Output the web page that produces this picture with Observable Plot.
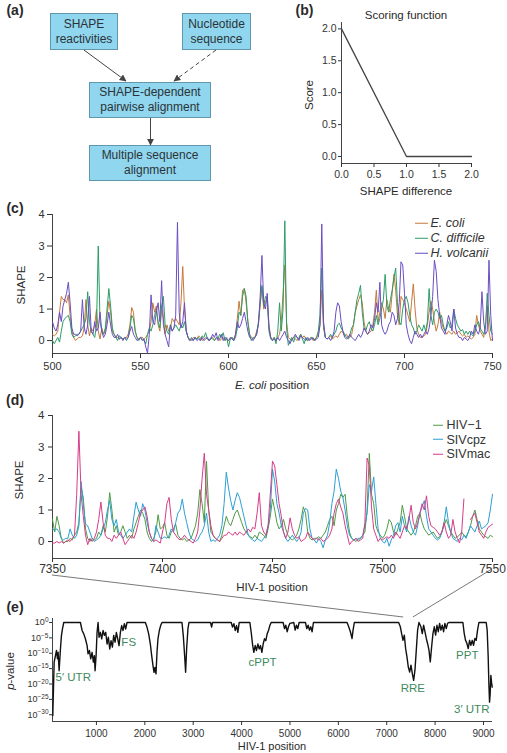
<!DOCTYPE html>
<html>
<head>
<meta charset="utf-8">
<script src="https://cdn.jsdelivr.net/npm/d3@7"></script>
<script src="https://cdn.jsdelivr.net/npm/@observablehq/plot@0.6"></script>
<style>
  html, body { margin: 0; padding: 0; background: #fff; }
  #fig { position: relative; width: 507px; height: 753px; overflow: hidden;
         font-family: "Liberation Sans", Arial, sans-serif; color: #2a2a2a; }
  .box { position: absolute; box-sizing: border-box; background: #8fd6ee; border: 1px solid #6197ad;
         display: flex; align-items: center; justify-content: center; text-align: center;
         font-size: 12px; line-height: 15px; color: #2c3338; }
  .lbl { position: absolute; white-space: nowrap; transform: translate(-50%, -50%); line-height: 1; }
  .row { position: absolute; display: flex; align-items: center; white-space: nowrap; line-height: 1;
         transform: translateY(-50%); font-size: 12.5px; color: #333; }
  .row .sw { display: inline-block; height: 0; border-top: 1.3px solid; }
</style>
</head>
<body>
<div id="fig"></div>
<script>
// ---- (a) pipeline steps ----
const flowSteps = ["SHAPE<br>reactivities", "Nucleotide<br>sequence",
                   "SHAPE-dependent<br>pairwise alignment", "Multiple sequence<br>alignment"];

// ---- (b) scoring function ----
const scoreDiff = [0, 1, 2];
const scoreValue = [2, 0, 0];
const scoreTicks = [0, 0.5, 1, 1.5, 2];

// ---- (c) SHAPE profiles, E. coli numbering 500–750 ----
const ecoliSpecies = ["E. coli", "C. difficile", "H. volcanii"];
const ecoliColors = ["#c7793a", "#2b9d66", "#6a4ec4"];
const ecoliFirst = 500;
const ecoliTicks = [500, 550, 600, 650, 700, 750];
const shapeTicks = [0, 1, 2, 3, 4];
const shapeEcoli = [
  0.2,0.15,0.2,0.3,0.9,1.4,1.3,1.3,1.2,1.45,
  0.8,0.3,0.1,0.0,0.05,0.1,0.1,0.15,0.4,1.3,
  0.5,0.15,0.4,0.3,0.5,1.0,0.3,0.05,0.4,0.2,
  0.3,0.8,1.25,0.9,0.3,0.2,0.1,0.1,0.05,0.1,
  0.05,0.1,0.1,0.2,0.5,1.05,0.9,0.3,0.1,0.05,
  0.1,0.1,0.05,0.1,0.2,0.3,0.6,1.2,0.9,1.1,
  0.5,0.3,1.0,0.7,0.2,0.5,0.3,0.4,0.7,0.6,
  0.7,0.6,0.5,1.2,2.35,1.0,0.3,0.1,0.05,0.0,
  0.1,0.1,0.05,0.15,0.1,0.0,0.05,0.1,0.05,0.0,
  0.05,0.1,0.0,0.05,0.1,0.0,0.05,0.1,0.0,0.05,
  0.0,0.05,0.1,0.05,0.2,0.7,1.25,0.8,1.6,1.65,
  1.2,0.6,0.2,0.1,0.05,0.1,0.3,0.5,1.1,1.7,
  1.0,1.2,1.4,0.5,0.1,0.05,0.1,0.0,0.1,0.2,
  0.6,1.5,2.4,0.6,0.1,0.05,0.0,0.1,0.05,0.0,
  0.1,0.2,0.1,0.15,0.05,0.0,0.05,0.1,0.0,0.05,
  0.1,0.2,0.5,1.6,0.4,0.1,0.05,0.1,0.15,0.05,
  0.1,0.15,0.1,0.2,0.3,0.25,0.15,0.2,0.1,0.1,
  0.2,0.5,0.9,1.1,1.3,1.45,1.2,0.6,0.3,0.2,
  0.25,0.3,0.5,0.9,1.6,0.6,0.9,1.2,1.0,0.7,
  1.3,1.0,0.9,1.5,2.1,1.6,0.8,0.5,1.4,1.3,
  1.2,1.0,0.8,0.6,1.2,1.8,1.0,0.4,0.2,0.1,
  0.1,0.15,0.2,0.5,0.9,1.25,1.0,0.6,0.3,0.5,
  0.9,0.6,0.4,0.3,0.2,0.3,0.25,0.2,0.3,0.2,
  0.25,0.3,0.2,0.15,0.2,0.1,0.15,0.1,0.05,0.1,
  0.2,0.8,0.5,0.3,0.2,0.1,0.5,1.1,0.3,0.0,
  0.05
];
const shapeCdiff = [
  0.0,-0.1,0.0,0.1,-0.05,0.3,0.6,0.7,0.75,0.8,
  0.6,0.2,0.1,0.15,0.2,0.2,0.3,0.4,0.5,0.7,
  1.55,0.6,0.3,0.2,0.1,0.5,3.0,0.6,0.3,0.2,
  0.4,1.0,1.65,1.1,0.4,0.2,0.1,0.0,0.15,0.1,
  0.05,0.1,0.0,0.1,0.4,0.8,0.7,0.3,0.1,0.0,
  0.1,0.05,0.0,-0.1,0.2,0.4,0.3,0.5,0.8,1.0,
  0.6,0.4,1.1,1.4,0.5,0.3,0.2,0.5,0.3,0.4,
  0.5,0.4,0.3,0.5,0.4,0.6,0.3,0.1,0.0,0.1,
  0.0,0.1,0.05,0.1,0.0,0.15,0.1,0.25,0.05,0.0,
  0.1,0.05,0.0,0.1,0.05,0.2,0.1,0.25,0.0,0.1,
  -0.2,0.05,0.1,0.0,0.1,0.4,0.9,0.8,1.4,1.65,
  1.4,0.6,0.2,0.0,0.1,0.1,0.2,0.6,1.2,1.75,
  1.1,1.4,1.3,0.3,0.05,0.0,0.1,-0.1,0.3,1.2,
  0.3,1.0,3.8,0.4,-0.15,0.0,0.1,-0.05,0.15,0.1,
  0.05,0.2,0.05,-0.1,0.1,0.0,0.05,0.1,0.05,0.0,
  0.1,0.3,0.8,2.3,0.5,0.1,0.05,0.1,0.2,0.1,
  0.2,0.3,0.5,0.55,0.4,0.3,0.2,0.1,0.05,0.2,
  0.4,0.5,0.9,1.3,1.5,1.75,0.9,0.4,0.3,0.5,
  0.6,0.4,0.3,0.5,0.8,0.5,0.7,1.0,1.3,2.1,
  1.1,0.9,1.3,1.6,2.0,2.3,1.2,0.6,0.5,1.0,
  1.3,1.4,1.2,0.8,0.5,0.4,0.2,0.3,0.5,0.4,
  0.3,0.5,0.3,0.6,1.65,0.8,0.5,0.9,1.0,0.9,
  0.7,0.8,0.5,0.3,0.4,0.6,0.4,0.5,1.0,0.7,
  0.5,0.4,0.3,0.35,0.2,0.3,0.2,0.3,0.2,0.15,
  0.3,0.5,0.6,0.4,0.3,0.2,0.4,1.5,0.8,0.3,
  0.2
];
const shapeHvol = [
  0.6,0.4,0.3,0.5,0.9,0.6,1.1,1.3,1.5,1.85,
  1.2,0.4,0.2,0.2,0.15,0.2,0.3,1.3,0.4,0.2,
  0.5,1.4,0.3,0.2,0.6,0.3,0.4,0.9,0.3,0.1,
  0.2,0.5,0.9,0.5,0.2,0.1,0.1,0.2,0.05,0.1,
  0.0,0.1,0.05,0.1,0.3,0.45,0.2,0.1,0.0,0.05,
  0.1,0.0,0.05,-0.2,-0.4,0.2,1.45,0.6,0.5,0.9,
  1.2,0.6,1.9,0.5,0.2,0.0,-0.2,0.5,0.3,0.4,
  0.8,3.75,0.9,0.4,0.6,1.2,0.3,0.1,0.0,0.05,
  0.0,0.1,0.0,0.05,0.0,0.1,0.0,0.05,0.1,0.0,
  0.05,0.2,0.1,0.25,0.0,0.05,0.2,0.0,0.1,0.05,
  0.0,0.1,0.05,0.0,0.2,0.6,0.4,0.5,0.7,0.9,
  0.6,0.3,0.1,0.05,0.0,0.1,0.2,0.5,1.4,2.7,
  1.2,1.0,1.5,0.4,0.1,0.0,0.05,0.0,0.1,0.0,
  0.1,0.2,0.3,0.1,0.0,-0.1,0.05,0.1,0.2,0.1,
  0.0,0.15,0.1,0.05,0.0,0.1,0.0,0.05,0.1,0.0,
  0.05,0.1,0.5,3.7,0.6,0.1,0.05,0.1,0.0,0.1,
  0.3,0.9,1.2,1.1,0.6,0.3,0.1,0.05,0.1,0.2,
  0.1,0.05,0.0,0.1,0.2,0.1,0.2,0.4,0.3,0.2,
  0.3,0.5,0.4,0.7,1.2,0.9,1.85,0.5,0.3,0.2,
  0.3,0.5,0.6,0.9,0.8,0.5,0.7,1.2,2.5,2.4,
  1.5,0.5,0.2,0.0,-0.1,0.1,0.3,0.2,0.1,0.2,
  0.1,0.2,0.3,0.2,0.4,0.8,1.4,2.55,2.2,1.3,
  0.8,0.4,0.3,0.2,0.5,0.8,0.6,0.3,1.0,0.4,
  0.2,0.1,0.1,0.0,0.1,0.05,0.0,0.1,0.3,0.2,
  0.5,0.3,0.2,0.4,1.55,0.6,0.2,0.3,2.55,0.8,
  0.0
];

// ---- (d) SHAPE profiles, HIV-1 numbering 7350–7550 ----
const hivStrains = ["HIV\u22121", "SIVcpz", "SIVmac"];
const hivColors = ["#4f9a45", "#2c9fd2", "#d63d88"];
const hivFirst = 7350;
const hivLast = 7550;
const hivTicks = [7350, 7400, 7450, 7500, 7550];
const shapeHiv1 = [
  0.7,0.3,0.8,0.5,0.1,-0.05,0.0,0.0,0.1,0.05,
  0.2,0.3,0.6,1.7,1.4,0.4,0.1,0.0,0.1,0.05,
  0.1,0.3,0.2,0.5,0.3,0.8,1.55,1.0,0.3,0.5,
  0.2,0.3,0.5,0.3,0.1,0.2,0.1,0.4,0.6,0.8,
  1.0,0.9,0.7,0.3,0.1,0.0,0.1,0.3,0.85,0.4,
  0.45,0.6,0.2,0.1,0.3,0.4,0.55,0.2,0.1,0.05,
  0.1,0.0,0.05,0.1,0.3,0.5,0.9,1.65,1.2,0.6,
  2.55,1.0,0.3,0.2,0.1,0.05,0.0,0.2,0.5,0.8,
  0.6,0.5,0.7,0.9,1.0,0.8,0.6,0.4,0.3,0.2,
  0.15,0.1,0.2,0.1,0.3,0.25,0.2,0.1,0.4,0.8,
  1.35,1.0,0.6,0.4,0.5,0.7,0.4,0.2,0.1,0.05,
  0.1,0.2,0.4,0.7,1.1,0.9,0.3,0.1,0.05,0.1,
  0.1,0.15,0.1,0.2,0.3,0.5,0.7,0.8,0.5,1.0,
  1.2,1.5,1.4,1.5,0.8,0.3,0.1,0.05,0.0,0.1,
  0.1,0.2,0.3,1.0,2.8,1.5,1.2,0.5,0.3,0.2,
  0.1,0.2,0.4,0.7,0.6,0.3,0.2,0.4,0.6,1.15,
  0.8,0.4,0.3,0.2,0.3,0.5,0.8,0.9,0.6,0.4,
  0.3,0.2,0.25,0.3,0.2,0.1,0.15,0.3,0.5,0.7,
  0.5,0.3,0.2,0.1,0.15,0.2,0.3,0.2,0.15,0.3,
  0.5,0.8,1.0,0.7,0.4,0.3,0.2,0.15,0.1,0.2,
  0.15
];
const shapeSivcpz = [
  0.4,0.35,0.4,0.3,0.1,0.05,0.1,0.1,0.4,0.2,
  0.1,0.2,0.5,1.9,1.2,0.55,0.5,0.3,0.1,0.0,
  0.05,0.1,0.2,0.4,0.6,1.0,1.3,0.7,0.5,0.7,
  0.3,0.2,0.1,0.2,0.3,0.4,0.3,0.8,1.25,1.0,
  0.8,1.2,1.0,0.6,0.3,0.1,0.0,0.5,0.3,0.1,
  0.1,0.15,0.1,0.2,0.4,0.3,0.6,0.9,1.0,1.35,
  0.9,0.6,0.3,0.1,0.05,0.0,0.05,0.2,0.3,0.5,
  0.9,0.3,0.0,0.05,0.0,0.1,0.2,0.5,1.2,2.2,
  1.7,1.3,1.0,1.3,1.55,1.4,1.1,0.8,0.5,0.2,
  0.1,0.05,0.0,0.1,0.05,0.0,0.1,0.2,0.5,1.0,
  2.3,1.9,1.2,0.9,0.5,0.3,0.1,0.0,0.1,0.2,
  0.1,0.0,0.1,0.3,0.9,1.05,1.0,0.4,0.1,0.05,
  -0.05,0.1,0.0,-0.2,0.05,0.2,0.6,1.2,1.6,2.3,
  2.0,1.6,1.4,1.0,0.5,0.2,0.1,0.05,0.1,0.05,
  0.1,0.2,0.5,0.9,1.8,1.6,2.05,1.2,0.4,0.1,
  0.0,-0.05,0.1,-0.15,0.05,0.2,0.5,0.6,0.3,0.8,
  0.5,0.3,0.8,0.5,0.3,0.2,0.5,0.9,1.1,1.3,
  0.8,0.4,0.3,0.2,0.1,0.05,0.1,0.3,0.6,1.1,
  0.6,0.3,0.1,0.05,0.0,0.1,0.05,0.2,0.1,0.3,
  0.5,0.4,0.3,0.5,0.65,0.4,0.45,0.5,0.6,1.0,
  1.5
];
const shapeSivmac = [
  -0.05,-0.05,0.0,-0.05,0.0,-0.05,0.0,0.05,0.0,0.1,
  0.2,1.5,3.5,1.5,0.8,0.2,-0.1,0.1,0.0,0.1,
  0.3,0.7,1.25,0.6,0.2,0.1,0.1,0.0,0.2,0.1,
  0.2,0.3,0.1,-0.1,0.0,0.1,0.2,0.1,0.3,0.6,
  0.9,1.0,1.1,0.8,0.3,0.1,0.0,0.05,0.0,-0.05,
  0.3,0.6,1.2,1.4,0.7,0.3,0.2,0.1,0.05,0.1,
  0.2,0.1,0.05,0.0,-0.05,0.1,0.3,1.0,2.0,2.8,
  1.5,1.0,0.5,0.2,0.1,0.05,0.0,0.1,0.2,0.2,
  0.3,0.25,0.2,0.3,0.2,0.3,0.25,0.2,0.3,0.4,
  0.3,0.45,0.4,0.9,1.55,0.5,0.3,0.2,0.5,1.5,
  2.55,2.4,1.8,1.2,0.8,0.3,0.1,0.3,0.75,0.4,
  0.2,0.1,0.15,0.0,0.05,0.1,0.3,0.2,0.1,0.05,
  0.1,0.05,0.1,0.0,0.05,0.1,0.2,0.4,0.9,1.2,
  1.35,1.1,0.9,0.5,0.2,-0.1,0.0,0.05,0.1,0.0,
  0.05,0.1,0.6,2.65,2.4,1.1,0.4,0.2,0.0,0.1,
  0.05,0.1,0.15,0.1,0.2,0.1,0.3,0.2,0.1,0.3,
  0.5,0.4,0.7,1.15,0.6,0.4,0.6,0.9,1.2,1.0,
  1.45,0.8,0.5,0.45,0.4,0.3,0.2,0.3,0.6,0.3,
  0.1,0.2,0.7,0.3,0.1,-0.05,0.3,1.35,null,null,
  0.7,0.8,0.9,0.6,0.3,0.2,0.1,0.3,0.45,0.5,
  0.55
];

// ---- (e) genome-wide p-values (log10) along HIV-1 ----
const genomePos = [
  98,112,126,153,174,194,208,229,256,277,298,325,669,704,738,772,807,827,855,882,
  910,937,958,972,993,1013,1034,1054,1082,1109,1137,1164,1192,1220,1247,1275,1302,1330,1357,1385,
  1412,1440,1467,1495,1522,1550,1577,1605,1632,2011,2045,2080,2114,2142,2169,2190,2210,2231,2252,2272,
  2300,2327,2355,2768,2795,2823,2843,2864,2891,2912,3359,3380,3400,3786,3813,3841,3868,3896,3923,3951,
  4171,4199,4226,4253,4281,4308,4336,4364,4391,4419,4446,4474,4501,4529,4556,4584,4611,4859,4887,4914,
  4942,4969,4997,5079,5107,5134,5162,5189,5320,5348,5375,5403,5430,5458,5485,6180,6214,6249,6283,6304,
  6331,7246,7281,7308,7336,7363,7391,7418,7446,7474,7501,7529,7556,7583,7611,7638,7666,7707,7735,7762,
  7790,7818,7845,7873,7900,7928,7955,7983,8010,8038,8065,8093,8120,8148,8175,8202,8230,8258,8285,8574,
  8602,8629,8657,8684,8712,8739,8767,8794,8822,8849,8877,8905,9056,9076,9097,9111,9125,9138,9152,9166,
  9180
];
const genomeLogP = [
  -30.3,-21.6,-12.9,-10.8,-9.1,-11.8,-9.7,-15.7,-8.6,-4.2,-2.1,0,0,-2.6,-3.7,-5.3,-7.5,-10.2,-9.1,-11.8,
  -9.7,-12.9,-10.8,-15.7,-10.8,-3.2,0,-4.8,-3.2,-5.3,-2.6,-4.2,-3.2,-7.0,-4.8,-8.6,-5.9,-8.0,-4.2,-6.4,
  -3.2,-5.3,-7.5,-3.2,-1.0,-2.6,-0.4,-2.1,0,0,-1.5,-3.7,-7.0,-10.8,-14.0,-16.2,-14.6,-16.7,-9.7,-5.3,
  -2.6,-1.0,0,0,-4.2,-10.8,-16.2,-8.6,-2.1,0,0,-1.5,0,0,-1.5,-0.4,-2.6,-1.0,-3.2,0,
  0,-3.2,-7.0,-9.7,-7.5,-9.1,-7.0,-8.6,-7.5,-9.7,-7.0,-5.3,-5.9,-3.7,-2.6,-1.0,0,0,-2.0,-0.9,
  -3.0,-1.4,-0.3,0,-2.5,-0.9,-2.0,0,0,-2.0,-0.9,-2.5,-1.4,-3.0,0,0,-1.4,-3.0,-5.2,-2.5,
  0,0,-1.4,-3.6,-5.8,-4.1,-8.5,-11.2,-14.5,-16.1,-13.9,-16.6,-18.8,-15.6,-9.0,-2.5,0,-1.4,-3.6,-0.9,
  -3.0,-5.2,-6.9,-9.0,-12.8,-7.9,-3.6,-1.4,-4.1,-0.9,-3.0,-0.3,-2.5,-0.9,-3.0,-0.3,-2.0,-0.3,0,0,
  -3.6,-5.8,-6.8,-8.5,-5.8,-7.4,-5.8,-7.4,-5.2,-5.8,-2.5,0,0,-2.5,-11.2,-19.9,-25.9,-23.2,-17.2,-19.4,
  -21.0
];
const genomeTicks = [1000, 2000, 3000, 4000, 5000, 6000, 7000, 8000, 9000];
const pTicks = [0, -5, -10, -15, -20, -25, -30];
const regionNames = ["5\u2032 UTR", "FS", "cPPT", "RRE", "PPT", "3\u2032 UTR"];
const regionPos = [521, 1667, 4433, 7539, 8664, 8757];
const regionLogP = [-17.8, -6.4, -12.9, -21.4, -10.7, -28.3];

// ------------------------------------------------------------------
const fig = document.getElementById("fig");
const FONT = '"Liberation Sans", Arial, sans-serif';
const AXIS = "#444";
const baseStyle = {fontFamily: FONT, fontSize: "11px", color: "#333", background: "transparent", overflow: "visible"};

function put(el, left, top) {
  el.style.position = "absolute";
  el.style.left = left + "px";
  el.style.top = top + "px";
  fig.appendChild(el);
  return el;
}
function label(html, cx, cy, {size = 11.5, rotate = false, bold = false, color = null} = {}) {
  const d = document.createElement("div");
  d.className = "lbl";
  d.innerHTML = html;
  d.style.left = cx + "px";
  d.style.top = cy + "px";
  d.style.fontSize = size + "px";
  if (rotate) d.style.transform = "translate(-50%, -50%) rotate(-90deg)";
  if (bold) d.style.fontWeight = "bold";
  if (color) d.style.color = color;
  fig.appendChild(d);
}
function legend(names, colors, left, top, step, swatch, gap, italic) {
  names.forEach((name, k) => {
    const row = document.createElement("div");
    row.className = "row";
    row.style.left = left + "px";
    row.style.top = (top + k * step) + "px";
    const sw = document.createElement("span");
    sw.className = "sw";
    sw.style.width = swatch + "px";
    sw.style.marginRight = gap + "px";
    sw.style.borderColor = colors[k];
    const t = document.createElement("span");
    t.textContent = name;
    if (italic) t.style.fontStyle = "italic";
    row.append(sw, t);
    fig.appendChild(row);
  });
}

// ---- (a) flowchart boxes ----
const boxFrames = [[50, 13, 68, 37], [182, 13, 69, 37], [89, 82, 122, 36], [89, 145, 122, 36]];
flowSteps.forEach((html, i) => {
  const b = document.createElement("div");
  b.className = "box";
  b.innerHTML = html;
  const [l, t, w, h] = boxFrames[i];
  b.style.width = w + "px";
  b.style.height = h + "px";
  put(b, l, t);
});

// ---- (b) scoring function ----
const scoreRows = scoreDiff.map((d, i) => ({diff: d, score: scoreValue[i]}));
const plotB = Plot.plot({
  width: 247, height: 200, marginLeft: 81, marginRight: 36, marginTop: 22, marginBottom: 37,
  style: baseStyle,
  x: {domain: [0, 2], label: null},
  y: {domain: [-0.11, 2.1], label: null},
  marks: [
    Plot.ruleX([0], {stroke: AXIS}),
    Plot.ruleY([-0.11], {stroke: AXIS}),
    Plot.axisX({ticks: scoreTicks, tickFormat: d3.format(".1f"), tickSize: 4, tickPadding: 3, fontSize: 10.5, label: null}),
    Plot.axisY({ticks: scoreTicks, tickFormat: d3.format(".1f"), tickSize: 3, tickPadding: 2, fontSize: 10.5, label: null}),
    Plot.line(scoreRows, {x: "diff", y: "score", stroke: "#444", strokeWidth: 1.3})
  ]
});
put(plotB, 260, 0);

// ---- (c) E. coli-numbered profiles ----
const ecoliRows = [shapeEcoli, shapeCdiff, shapeHvol].flatMap((vals, k) =>
  vals.map((v, i) => ({pos: ecoliFirst + i, shape: v, species: ecoliSpecies[k]})));
const plotC = Plot.plot({
  width: 507, height: 180, marginLeft: 52, marginRight: 15, marginTop: 14, marginBottom: 27,
  style: baseStyle,
  x: {domain: [ecoliTicks[0], ecoliTicks[ecoliTicks.length - 1]], label: null},
  y: {domain: [-0.41, 4], label: null},
  color: {domain: ecoliSpecies, range: ecoliColors},
  marks: [
    Plot.ruleX([ecoliTicks[0]], {stroke: AXIS}),
    Plot.ruleY([-0.41], {stroke: AXIS}),
    Plot.axisX({ticks: ecoliTicks, tickFormat: d3.format("d"), tickSize: 5, tickPadding: 4, fontSize: 11, label: null}),
    Plot.axisY({ticks: shapeTicks, tickFormat: d3.format("d"), tickSize: 5, tickPadding: 3, fontSize: 11, label: null}),
    Plot.lineY(ecoliRows, {x: "pos", y: "shape", z: "species", stroke: "species", strokeWidth: 1})
  ]
});
put(plotC, 0, 200);

// ---- (d) HIV-1-numbered profiles ----
const hivRows = [shapeHiv1, shapeSivcpz, shapeSivmac].flatMap((vals, k) =>
  vals.map((v, i) => ({pos: hivFirst + i, shape: v, strain: hivStrains[k]})));
const plotD = Plot.plot({
  width: 507, height: 190, marginLeft: 52, marginRight: 15, marginTop: 15, marginBottom: 32,
  style: baseStyle,
  x: {domain: [hivFirst, hivLast], label: null},
  y: {domain: [-0.54, 4], label: null},
  color: {domain: hivStrains, range: hivColors},
  marks: [
    Plot.ruleX([hivFirst], {stroke: AXIS}),
    Plot.ruleY([-0.54], {stroke: AXIS}),
    Plot.axisX({ticks: hivTicks, tickFormat: d3.format("d"), tickSize: 4, tickPadding: 2, fontSize: 12, label: null}),
    Plot.axisY({ticks: shapeTicks, tickFormat: d3.format("d"), tickSize: 4, tickPadding: 4, fontSize: 11.5, label: null}),
    Plot.lineY(hivRows, {x: "pos", y: "shape", z: "strain", stroke: "strain", strokeWidth: 1})
  ]
});
put(plotD, 0, 400);

// ---- (e) genome-wide p-values ----
const genomeRows = genomePos.map((p, i) => ({pos: p, logp: genomeLogP[i]}));
const regionRows = regionNames.map((n, i) => ({name: n, pos: regionPos[i], logp: regionLogP[i]}));
const plotE = Plot.plot({
  width: 507, height: 148, marginLeft: 52, marginRight: 15, marginTop: 13, marginBottom: 32,
  style: baseStyle,
  x: {domain: [92, 9186], label: null},
  y: {domain: [-32.2, 1.3], label: null},
  marks: [
    Plot.ruleX([92], {stroke: AXIS}),
    Plot.ruleY([-32.2], {stroke: AXIS}),
    Plot.axisX({ticks: genomeTicks, tickFormat: d3.format("d"), tickSize: 4, tickPadding: 4, fontSize: 10, label: null}),
    Plot.axisY({ticks: pTicks, tickFormat: d => "10^" + (d === 0 ? "0" : "\u2212" + Math.abs(d)), tickSize: 3, tickPadding: 1, fontSize: 9, label: null}),
    Plot.line(genomeRows, {x: "pos", y: "logp", stroke: "#111", strokeWidth: 1.4}),
    Plot.text(regionRows, {x: "pos", y: "logp", text: "name", fill: "#3e8a5c", fontSize: 11.5})
  ]
});
// render exponents as superscripts
d3.select(plotE).selectAll("text").each(function () {
  const m = /^10\^(.+)$/.exec(this.textContent);
  if (!m) return;
  this.textContent = "10";
  d3.select(this).append("tspan").attr("dy", "-0.5em").attr("font-size", "6.5px").text(m[1]);
});
put(plotE, 0, 605);

// ---- panel tags, axis titles and legends ----
label("(a)", 15, 10, {size: 14, bold: true});
label("(b)", 304.5, 10, {size: 14, bold: true});
label("(c)", 15, 207.5, {size: 14, bold: true});
label("(d)", 15, 399.5, {size: 14, bold: true});
label("(e)", 15, 607, {size: 14, bold: true});

label("Scoring function", 406, 16, {size: 11.5});
label("Score", 310, 95, {size: 11.5, rotate: true});
label("SHAPE difference", 406, 192, {size: 11.5});

label("SHAPE", 21.5, 285, {size: 11.5, rotate: true});
label("<i>E. coli</i> position", 272, 386, {size: 11.5});
legend(ecoliSpecies, ecoliColors, 415, 223, 15, 13, 2.5, true);

label("SHAPE", 20, 480, {size: 11.5, rotate: true});
label("HIV-1 position", 272, 588, {size: 11.5});
legend(hivStrains, hivColors, 433, 425, 14.6, 10, 3.5, false);

label("<i>p</i>-value", 11, 671, {size: 11.5, rotate: true});
label("HIV-1 position", 272, 746, {size: 11});

// ---- overlay: flowchart arrows and zoom connectors ----
const over = d3.create("svg")
  .attr("width", 507).attr("height", 753)
  .style("position", "absolute").style("left", "0px").style("top", "0px")
  .style("pointer-events", "none");
over.append("defs").append("marker")
  .attr("id", "head").attr("viewBox", "0 0 10 10").attr("refX", 9).attr("refY", 5)
  .attr("markerWidth", 7).attr("markerHeight", 7).attr("orient", "auto-start-reverse")
  .attr("markerUnits", "userSpaceOnUse")
  .append("path").attr("d", "M0,0 L10,5 L0,10 z").attr("fill", "#444");
const arrows = [
  {x1: 84, y1: 50, x2: 126, y2: 81, dash: null},
  {x1: 216, y1: 50, x2: 174, y2: 81, dash: "4,3"},
  {x1: 150.5, y1: 118, x2: 150.5, y2: 145, dash: null}
];
arrows.forEach(a => {
  over.append("line").attr("x1", a.x1).attr("y1", a.y1).attr("x2", a.x2).attr("y2", a.y2)
    .attr("stroke", "#444").attr("stroke-width", 1).attr("stroke-dasharray", a.dash)
    .attr("marker-end", "url(#head)");
});
const xd = plotD.scale("x"), xe = plotE.scale("x");
[[hivFirst, 575], [hivLast, 569]].forEach(([p, y0]) => {
  over.append("line")
    .attr("x1", xd.apply(p)).attr("y1", y0)
    .attr("x2", xe.apply(p)).attr("y2", 617)
    .attr("stroke", "#555").attr("stroke-width", 0.8);
});
fig.appendChild(over.node());
</script>
</body>
</html>
